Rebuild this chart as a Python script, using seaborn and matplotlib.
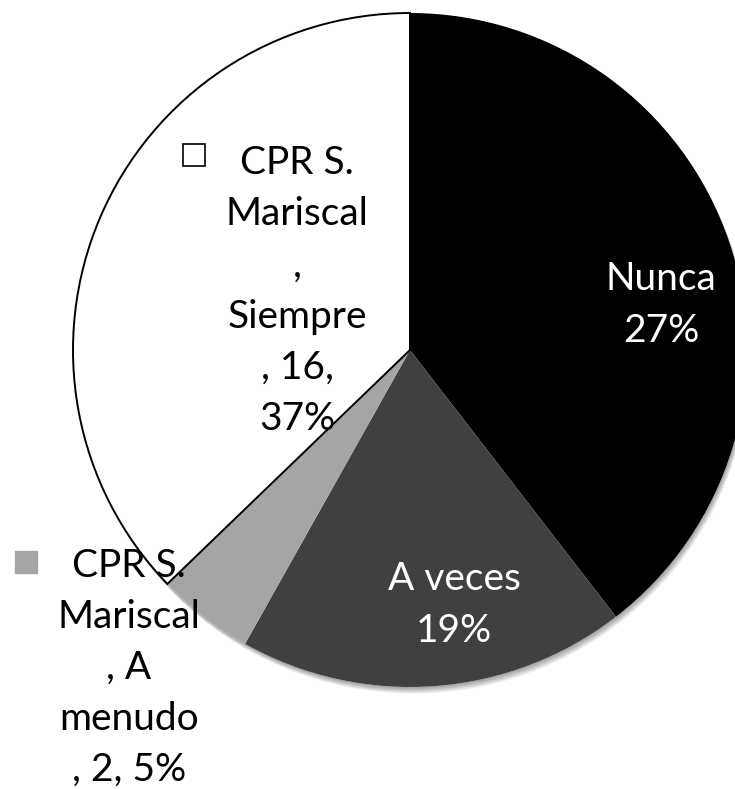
import matplotlib
matplotlib.use("Agg")
import matplotlib.pyplot as plt
import matplotlib.patheffects as pe
from matplotlib.patches import Circle
import seaborn as sns

# data
categories = ["Nunca", "A veces", "A menudo", "Siempre"]
counts = [17, 8, 2, 16]
pct_text = ["27%", "19%", "5%", "37%"]
label_text = [
    "Nunca\n27%",
    "A veces\n19%",
    "CPR S.\nMariscal\n, A\nmenudo\n, 2, 5%",
    "CPR S.\nMariscal\n,\nSiempre\n, 16,\n37%",
]

sns.set_theme(style="white")
plt.rcParams["font.family"] = ["Lato", "DejaVu Sans"]

colors = sns.color_palette(["#000000", "#404040", "#a5a5a5", "#ffffff"])

W, H, DPI = 735, 789, 100
fig = plt.figure(figsize=(W / DPI, H / DPI), dpi=DPI)
ax = fig.add_axes([0, 0, 1, 1])

# pie centre / radius in pixels
cx, cy, R = 410, 350, 337

# soft shadow under the pie
shadow = Circle((0, 0), 1, facecolor="white", edgecolor="none", zorder=0)
shadow.set_path_effects(
    [pe.SimplePatchShadow(offset=(0.3 * k, -0.6 * k), shadow_rgbFace="black", alpha=0.05)
     for k in range(1, 9)] + [pe.Normal()]
)
ax.add_patch(shadow)

wedges, _ = ax.pie(counts, colors=colors, startangle=90, counterclock=False,
                   wedgeprops=dict(linewidth=0))
for w in wedges:
    w.set_zorder(2)
wedges[3].set_edgecolor("black")
wedges[3].set_linewidth(1.4)

ax.set_xlim(-cx / R, (W - cx) / R)
ax.set_ylim(-(H - cy) / R, cy / R)
ax.set_aspect("auto")
ax.axis("off")


def px(x, y):
    return (x - cx) / R, (cy - y) / R


label_pos = [(661, 305), (454, 605), (129, 668), (297, 291)]
label_color = ["white", "white", "black", "black"]
for txt, (x, y), c in zip(label_text, label_pos, label_color):
    ax.text(*px(x, y), txt, ha="center", va="center", multialignment="center",
            fontsize=28, color=c, linespacing=1.52, zorder=5)

# legend keys next to the outside labels
ax.plot(*px(26, 562), marker="s", markersize=16, color=colors[2],
        markeredgecolor=colors[2], zorder=5, clip_on=False)
ax.plot(*px(194, 155), marker="s", markersize=16, color="white",
        markeredgecolor="black", markeredgewidth=1.2, zorder=5, clip_on=False)

fig.savefig("out.png", dpi=DPI)
